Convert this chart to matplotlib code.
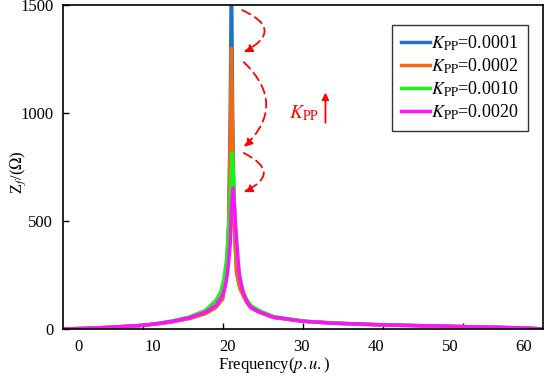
import matplotlib
matplotlib.use('Agg')
from matplotlib import pyplot as plt
import numpy as np

plt.rcParams['font.family'] = 'Liberation Serif'
plt.rcParams['mathtext.fontset'] = 'stix'

# series (frequency in p.u., impedance in ohm)
f_blue = [0, 3, 6, 10, 12, 13.7, 15.8, 17.8, 19.1, 19.95, 20.4, 20.7, 20.9, 21.05, 21.2, 21.4, 21.7, 22.1, 22.6, 23.0, 23.5, 24.5, 26.3, 30, 33.8, 40, 45, 50, 55, 58, 60]
z_blue = [0, 3, 8, 17, 25, 34, 49, 72, 100, 140, 250, 480, 1000, 1700, 1000, 480, 260, 190, 150, 122, 98, 78, 54, 36, 27, 19, 15, 11, 7, 4, 0]

f_orange = [0, 3, 6, 10, 12, 13.7, 15.8, 17.8, 19.1, 19.95, 20.4, 20.7, 20.9, 21.05, 21.2, 21.4, 21.7, 22.1, 22.6, 23.0, 23.5, 24.5, 26.3, 30, 33.8, 40, 45, 50, 55, 58, 60]
z_orange = [0, 3, 8, 17, 25, 34, 49, 72, 100, 140, 250, 480, 900, 1300, 900, 480, 260, 190, 150, 122, 98, 78, 54, 36, 27, 19, 15, 11, 7, 4, 0]

f_green = [0, 3, 6, 10, 12, 13.7, 15.8, 17.8, 19.1, 19.7, 20.1, 20.5, 20.8, 21.0, 21.15, 21.3, 21.5, 21.8, 22.1, 22.5, 23.0, 23.5, 24.6, 26.3, 30, 33.8, 40, 45, 50, 55, 58, 60]
z_green = [0, 3, 8, 17, 27, 38, 56, 86, 132, 170, 230, 340, 520, 720, 815, 720, 520, 330, 240, 175, 135, 108, 84, 58, 37, 27, 19, 15, 11, 7, 4, 0]

f_mag = [0, 3, 6, 10, 12, 13.7, 15.8, 17.8, 19.1, 19.95, 20.3, 20.6, 20.9, 21.05, 21.25, 21.45, 21.6, 21.8, 22.0, 22.3, 22.6, 23.0, 23.5, 24.5, 26.3, 30, 33.8, 40, 45, 50, 55, 58, 60]
z_mag = [0, 3, 8, 17, 26, 36, 52, 78, 109, 155, 200, 270, 395, 560, 653, 560, 455, 363, 262, 200, 160, 125, 100, 80, 55, 36, 27, 19, 15, 11, 7, 4, 0]

labels = [r'$K_{\mathrm{PP}}$=0.0001', r'$K_{\mathrm{PP}}$=0.0002',
          r'$K_{\mathrm{PP}}$=0.0010', r'$K_{\mathrm{PP}}$=0.0020']
colors = ['#1f72c4', '#f26a10', '#1ef01e', '#ff10ff']
xticklabels = ['0', '10', '20', '30', '40', '50', '60']
xticks = [10, 20, 30, 40, 50]
yticks = [0, 500, 1000, 1500]

fig = plt.figure(figsize=(5.5, 3.77), dpi=100)
ax = fig.add_axes([0.1145, 0.1273, 0.873, 0.859])

series = [(f_blue, z_blue), (f_orange, z_orange), (f_green, z_green), (f_mag, z_mag)]
for (f, z), c, lab in zip(series, colors, labels):
    ax.plot(f, z, color=c, lw=2.5, label=lab, solid_joinstyle='round')

ax.set_xlim(0, 60)
ax.set_ylim(0, 1500)
# tick marks on the grid, labels sit slightly apart as in the original figure
ax.set_xticks(xticks)
ax.set_xticks(np.linspace(2.0, 57.6, len(xticklabels)), labels=xticklabels, minor=True)
ax.set_yticks(yticks)
ax.tick_params(direction='in', labelsize=12, length=4, width=1)
ax.tick_params(axis='x', which='major', labelbottom=False)
ax.tick_params(axis='x', which='minor', length=0, pad=7, labelsize=12)
ax.tick_params(axis='y', pad=7)
for s in ax.spines.values():
    s.set_linewidth(1.2)

ax.set_xlabel(r'Frequency($p.u.$)', fontsize=12, labelpad=0)
ax.xaxis.set_label_coords(0.44, -0.08)
ax.set_ylabel(r'Z$_f$/($\Omega$)', fontsize=12)
ax.yaxis.set_label_coords(-0.072, 0.485)

leg = ax.legend(loc='upper right', bbox_to_anchor=(0.969, 0.94), fontsize=13,
                frameon=True, fancybox=False, edgecolor='black', borderaxespad=0,
                handlelength=1.6, handletextpad=0.1, borderpad=0.5, labelspacing=0.2)
leg.get_frame().set_linewidth(1.0)

# curved dashed red arrows between peaks
arrows = [((22.4, 1477), (22.6, 1282), -1.0),
          ((22.6, 1236), (22.6, 843), -0.52),
          ((22.6, 815), (22.6, 634), -1.0)]
for (x0, y0), (x1, y1), rad in arrows:
    ax.annotate('', xy=(x1, y1), xytext=(x0, y0),
                arrowprops=dict(arrowstyle='-|>', color='red', lw=1.3, ls=(0, (5, 3)),
                                connectionstyle='arc3,rad=%s' % rad,
                                mutation_scale=12, shrinkA=0, shrinkB=0))

ax.text(28.2, 1000, r'$K_{\mathrm{PP}}$', color='red', fontsize=14, va='center')
ax.annotate('', xy=(32.8, 1095), xytext=(32.8, 955),
            arrowprops=dict(arrowstyle='-|>', color='red', lw=1.3, mutation_scale=10,
                            shrinkA=0, shrinkB=0))

fig.savefig('out.png', dpi=100)
